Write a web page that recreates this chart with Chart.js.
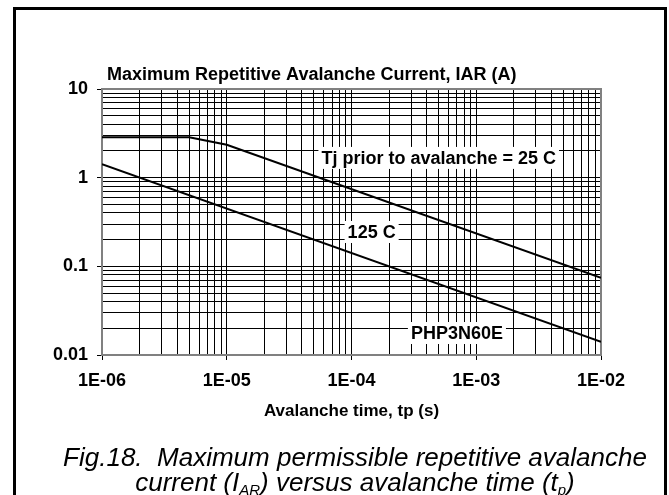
<!DOCTYPE html>
<html>
<head>
<meta charset="utf-8">
<script src="https://cdn.jsdelivr.net/npm/chart.js@4.4.1/dist/chart.umd.min.js"></script>
<style>
  body { margin: 0; background: #fff; }
  #wrap { position: relative; width: 669px; height: 495px; overflow: hidden; }
  #caption {
    position: absolute; left: 40px; top: 445px; width: 630px;
    text-align: center; font-family: "Liberation Sans", Arial, sans-serif;
    font-style: italic; font-size: 26px; line-height: 25px; color: #000;
  }
  #caption sub { font-size: 15px; vertical-align: -4px; }
</style>
</head>
<body>
<div id="wrap">
  <canvas id="avChart" width="669" height="495"></canvas>
  <div id="caption">Fig.18.&nbsp; Maximum permissible repetitive avalanche<br>current (I<sub>AR</sub>) versus avalanche time (t<sub>p</sub>)</div>
</div>
<script>
// avalanche time, s
var time25 = [1e-6, 5e-6, 1e-5, 1e-2];
var iar25 = [2.85, 2.85, 2.35, 0.074];
var time125 = [1e-6, 1e-2];
var iar125 = [1.42, 0.0141];

var xTickValues = [1e-6, 1e-5, 1e-4, 1e-3, 1e-2];
var xTickLabels = ["1E-06", "1E-05", "1E-04", "1E-03", "1E-02"];
var yTickValues = [0.01, 0.1, 1, 10];
var yTickLabels = ["0.01", "0.1", "1", "10"];

var chartTitle = "Maximum Repetitive Avalanche Current, IAR (A)";
var xTitle = "Avalanche time, tp (s)";
var notes = [
    { text: "Tj prior to avalanche = 25 C", x: 5e-4, y: 1.67 },
    { text: "125 C", x: 1.45e-4, y: 0.244 },
    { text: "PHP3N60E", x: 7e-4, y: 0.0177 }
];

var FONT = '"Liberation Sans", Arial, sans-serif';

function toPoints(xs, ys) {
    return xs.map(function(x, i) { return { x: x, y: ys[i] }; });
}

// grid lines at 1..9 of every decade
function logGrid(decades) {
    var out = [];
    for (var i = 0; i < decades.length - 1; i++) {
	for (var m = 1; m < 10; m++) out.push(m * decades[i]);
    }
    out.push(decades[decades.length - 1]);
    return out;
}

function isDecade(v) {
    var l = Math.log10(v);
    return Math.abs(l - Math.round(l)) < 1e-6;
}

function labelFor(v, values, labels) {
    for (var i = 0; i < values.length; i++) {
	if (Math.abs(Math.log10(values[i]) - Math.log10(v)) < 1e-6) return labels[i];
    }
    return "";
}

var textPlugin = {
    id: 'textPlugin',
    beforeDraw: function(chart) {
	var c = chart.ctx;
	c.save();
	c.strokeStyle = '#000';
	c.lineWidth = 3;
	c.strokeRect(14.5, 8.5, 651, 520);
	c.restore();
    },
    beforeDatasetsDraw: function(chart) {
	var c = chart.ctx, a = chart.chartArea;
	var xs = chart.scales.x, ys = chart.scales.y;
	c.save();
	// plot area frame
	c.strokeStyle = '#808080';
	c.lineWidth = 2;
	c.strokeRect(a.left, a.top, a.right - a.left, a.bottom - a.top);
	c.font = 'bold 18px ' + FONT;
	c.textAlign = 'center';
	c.textBaseline = 'middle';
	notes.forEach(function(n) {
	    var px = xs.getPixelForValue(n.x), py = ys.getPixelForValue(n.y);
	    var w = c.measureText(n.text).width;
	    c.fillStyle = '#fff';
	    c.fillRect(px - w / 2 - 3, py - 11, w + 6, 22);
	    c.fillStyle = '#000';
	    c.fillText(n.text, px, py + 1);
	});
	c.restore();
    },
    afterDraw: function(chart) {
	var c = chart.ctx, a = chart.chartArea;
	c.save();
	c.fillStyle = '#000';
	c.textBaseline = 'alphabetic';
	c.font = 'bold 18px ' + FONT;
	c.textAlign = 'left';
	c.fillText(chartTitle, 107, 80);
	c.font = 'bold 17px ' + FONT;
	c.textAlign = 'center';
	c.fillText(xTitle, (a.left + a.right) / 2, 416);
	c.restore();
    }
};

var ctx = document.getElementById("avChart").getContext("2d");

var myChart = new Chart(ctx, {
    type: 'scatter',
    data: {
	datasets: [{
	    label: "25 C",
	    data: toPoints(time25, iar25),
	    showLine: true,
	    borderColor: '#000',
	    borderWidth: 2,
	    pointRadius: 0
	}, {
	    label: "125 C",
	    data: toPoints(time125, iar125),
	    showLine: true,
	    borderColor: '#000',
	    borderWidth: 2,
	    pointRadius: 0
	}]
    },
    options: {
	responsive: false,
	animation: false,
	layout: { padding: { left: 0, right: 68, top: 89, bottom: 0 } },
	plugins: {
	    legend: { display: false },
	    tooltip: { enabled: false }
	},
	scales: {
	    x: {
		type: 'logarithmic',
		min: 1e-6,
		max: 1e-2,
		afterBuildTicks: function(scale) {
		    scale.ticks = logGrid(xTickValues).map(function(v) { return { value: v }; });
		},
		afterFit: function(scale) { scale.height = 140; },
		grid: {
		    color: '#000',
		    lineWidth: 1,
		    tickLength: 5,
		    tickColor: function(c) { return isDecade(c.tick.value) ? '#000' : 'rgba(0,0,0,0)'; }
		},
		border: { color: '#000', width: 1 },
		ticks: {
		    autoSkip: false,
		    maxRotation: 0,
		    padding: 10,
		    color: '#000',
		    font: { family: FONT, size: 18, weight: 'bold' },
		    callback: function(v) { return labelFor(v, xTickValues, xTickLabels); }
		}
	    },
	    y: {
		type: 'logarithmic',
		min: 0.01,
		max: 10,
		afterBuildTicks: function(scale) {
		    scale.ticks = logGrid(yTickValues).map(function(v) { return { value: v }; });
		},
		afterFit: function(scale) { scale.width = 102; },
		grid: {
		    color: '#000',
		    lineWidth: 1,
		    tickLength: 5,
		    tickColor: function(c) { return isDecade(c.tick.value) ? '#000' : 'rgba(0,0,0,0)'; }
		},
		border: { color: '#000', width: 1 },
		ticks: {
		    autoSkip: false,
		    padding: 9,
		    color: '#000',
		    font: { family: FONT, size: 18, weight: 'bold' },
		    callback: function(v) { return labelFor(v, yTickValues, yTickLabels); }
		}
	    }
	}
    },
    plugins: [textPlugin]
});
</script>
</body>
</html>
